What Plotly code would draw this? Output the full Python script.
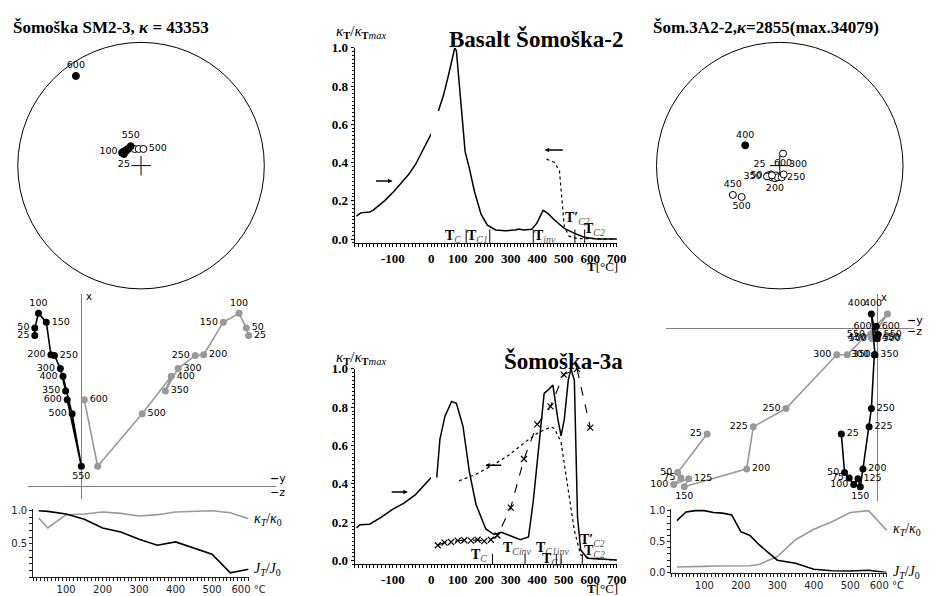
import math
import plotly.graph_objects as go

W, H = 939, 596
SERIF = "Liberation Serif"
SANS = "DejaVu Sans"
GRAY = "#999999"

# ---------------- data ----------------
# Stereonet A : Somoska SM2-3 (declination, inclination; negative = upper hemisphere)
a_temp = [25, 50, 100, 150, 200, 250, 300, 350, 400, 500, 550, 600]
a_dec = [304, 304, 307, 312, 318, 316, 322, 339, 352, 8, 332, 324]
a_inc = [76.4, 74.9, 75.1, 75.6, 76.1, 76.0, 76.0, -78.3, -78.9, -78.9, 75.5, 11.0]
a_lab = ['25', '', '100', '', '', '', '', '', '', '500', '550', '600']

# Stereonet C : Som.3A2-2
c_temp = [25, 50, 75, 100, 125, 150, 200, 225, 250, 300, 350, 400, 450, 500, 550, 600]
c_dec = [225, 230.2, 222.3, 213.7, 208.6, 201.8, 201, 189.5, 170.5, 156, 229.8, 300.4, 238, 230.6, 218.7, 15]
c_inc = [-81.8, -79.9, -80.4, -80.7, -81.9, -83.1, -81.1, -82.2, -82.2, -83.7, -79.0, 63.4, -53.0, -57.1, -81.8, -81.8]
c_lab = ['25', '50', '', '', '', '', '200', '', '250', '300', '350', '400', '450', '500', '', '600']

# Curve B : Basalt Somoska-2
b_lt_T = [-195, -184, -161, -152, -122, -97, -71, -58, -41, -28, -11, 0]
b_lt_k = [0.12, 0.137, 0.142, 0.15, 0.20, 0.25, 0.31, 0.34, 0.39, 0.44, 0.50, 0.55]
b_ht_T = [27, 46, 64, 80, 89, 95, 105, 120, 128, 144, 163, 188, 212, 243, 280, 317, 330, 348,
          379, 398, 422, 441, 465, 502, 539, 577, 626, 700]
b_ht_k = [0.67, 0.75, 0.85, 0.95, 1.0, 0.985, 0.83, 0.61, 0.457, 0.37, 0.25, 0.13, 0.073, 0.048,
          0.043, 0.048, 0.053, 0.048, 0.051, 0.082, 0.15, 0.133, 0.10, 0.056, 0.031, 0.01, 0.0, 0.0]
b_cool_T = [435, 465, 484, 490, 496, 502, 521, 552, 700]
b_cool_k = [0.418, 0.40, 0.355, 0.27, 0.15, 0.065, 0.014, 0.003, 0.0]
b_marks = [132, 221, 385, 542, 579]

# Curve F : Somoska-3a
f_lt_T = [-195, -186, -161, -131, -101, -71, -41, -20, 0]
f_lt_k = [0.17, 0.187, 0.19, 0.225, 0.267, 0.30, 0.344, 0.387, 0.433]
f_ht_T = [21, 33, 52, 77, 95, 120, 144, 169, 206, 237, 265, 299, 336, 367, 385, 410, 426, 441,
          459, 478, 490, 502, 517, 527, 540, 552, 564, 589, 700]
f_ht_k = [0.433, 0.634, 0.753, 0.83, 0.82, 0.70, 0.463, 0.293, 0.165, 0.136, 0.148, 0.131, 0.109,
          0.123, 0.31, 0.65, 0.872, 0.89, 0.915, 0.736, 0.65, 0.736, 0.94, 1.0, 0.94, 0.225, 0.055,
          0.012, 0.003]
f_cool_T = [105, 169, 231, 293, 354, 404, 453, 465, 490, 515, 540, 564, 601, 700]
f_cool_k = [0.416, 0.45, 0.497, 0.55, 0.617, 0.668, 0.697, 0.688, 0.617, 0.395, 0.157, 0.029, 0.012, 0.003]
f_rt_T = [25, 50, 75, 100, 125, 150, 175, 200, 225, 250, 300, 350, 400, 450, 500, 550, 600]
f_rt_k = [0.08, 0.094, 0.097, 0.104, 0.106, 0.104, 0.109, 0.102, 0.109, 0.131, 0.276, 0.53, 0.71,
          0.804, 0.97, 1.0, 0.693]
f_marks = [231, 354, 472, 490, 570]

# Zijderveld D : SM2-3
d_temp = [25, 50, 100, 150, 200, 250, 300, 350, 400, 500, 550, 600]
d_north = [154.6, 162.3, 177.3, 168.3, 135, 134.3, 121, 98, 113, 74.6, 21, 89]
d_east = [-47.4, -47.4, -43.7, -35.7, -31, -27.4, -21.4, -16, -18.7, -9.4, 0, -14.4]
d_up = [170.3, 168, 160.6, 144.6, 124.6, 116, 98.6, 85.6, 91.6, 62, 16.6, 3]

# Zijderveld G : 3A2-2
g_temp = [25, 50, 75, 100, 125, 150, 200, 225, 250, 300, 350, 400, 450, 500, 550, 600]
g_north = [-108.3, -147.7, -153.3, -160, -154, -162.3, -144, -101, -82.3, -27.3, -27.3, 14.3,
           -10, -11, -6.7, 1.7]
g_east = [-36.6, -33.3, -28.6, -24, -19.6, -17.3, -14.6, -8.3, -6, -3, -2.3, -6, -1, 0, 1, -1]
g_up = [-173.3, -203.3, -200, -207.3, -192, -196.6, -133, -126.3, -93, -41.3, -30.6, 10.4,
        -6, -5, -7, -0.3]

# Intensity / susceptibility E : SM2-3
e_temp = [25, 50, 100, 150, 200, 250, 300, 350, 400, 500, 550, 600]
e_k = [0.89, 0.74, 0.94, 0.95, 0.98, 0.96, 0.92, 0.94, 0.98, 1.0, 0.97, 0.88]
e_j = [1.0, 0.99, 0.95, 0.87, 0.74, 0.68, 0.57, 0.48, 0.53, 0.345, 0.065, 0.12]

# Intensity / susceptibility H : 3A2-2
h_temp = [25, 50, 75, 100, 125, 150, 175, 200, 225, 250, 300, 350, 400, 450, 500, 550, 600]
h_j = [0.84, 0.98, 1.0, 1.0, 0.97, 0.96, 0.93, 0.66, 0.60, 0.45, 0.20, 0.15, 0.053, 0.03, 0.026, 0.037, 0.0]
h_k = [0.09, 0.09, 0.1, 0.1, 0.105, 0.105, 0.11, 0.1, 0.11, 0.13, 0.26, 0.53, 0.70, 0.82, 0.97, 1.0, 0.68]

lt_ticks = [-100, 0]
ht_ticks = [100, 200, 300, 400, 500, 600, 700]
k_ticks = [0.0, 0.2, 0.4, 0.6, 0.8, 1.0]
small_ticks = [100, 200, 300, 400, 500, 600]
small_ticktext = ['100', '200', '300', '400', '500', '600 °C']

# ---------------- helpers ----------------
def dx(a, b):
    return [a / W, b / W]


def dy(top, bottom):
    return [1 - bottom / H, 1 - top / H]


def eqarea(inc):
    return math.sqrt(2) * math.sin(math.radians(45 - abs(inc) / 2))


def bold(vals, fmt):
    return ['<b>' + (fmt % v).replace('−', '-') + '</b>' for v in vals]


def keep(lab, *cols):
    idx = [i for i, s in enumerate(lab) if s]
    return [[c[i] for i in idx] for c in (lab,) + cols]


GHOST = dict(size=7, color='rgba(0,0,0,0)')
fig = go.Figure()
annotations = []
shapes = []


def pann(text, x, y, xanchor='left', yanchor='middle', size=11, family=SERIF, color='black'):
    annotations.append(dict(text=text, x=x / W, y=1 - y / H, xref='paper', yref='paper',
                            xanchor=xanchor, yanchor=yanchor, showarrow=False,
                            font=dict(family=family, size=size, color=color)))


# ---------------- stereonets ----------------
def stereonet(polar, dec, inc, lab, pos):
    r = [eqarea(i) for i in inc]
    col = ['black' if i >= 0 else 'white' for i in inc]
    fig.add_trace(go.Scatterpolar(r=[0], theta=[0], subplot=polar, mode='markers',
                                  marker=dict(symbol='cross-thin', size=14,
                                              line=dict(color='black', width=1)),
                                  showlegend=False, hoverinfo='skip'))
    fig.add_trace(go.Scatterpolar(r=r, theta=dec, subplot=polar, mode='markers',
                                  marker=dict(size=7, color=col, line=dict(color='black', width=1)),
                                  showlegend=False))
    t, rr, th, pp = keep(lab, r, dec, pos)
    fig.add_trace(go.Scatterpolar(r=rr, theta=th, subplot=polar, mode='markers+text', text=t,
                                  textposition=pp, marker=GHOST,
                                  textfont=dict(family=SANS, size=9.5, color='black'),
                                  showlegend=False, hoverinfo='skip'))


a_pos = ['bottom center', 'middle left', 'middle left', 'top center', 'top center', 'top center',
         'top center', 'top center', 'top center', 'middle right', 'top center', 'top center']
c_pos = ['top left', 'middle left', 'middle left', 'middle left', 'middle left', 'middle left',
         'bottom center', 'middle right', 'middle right', 'top right', 'middle left', 'top center',
         'top center', 'bottom center', 'middle left', 'bottom center']
stereonet('polar', a_dec, a_inc, a_lab, a_pos)
stereonet('polar2', c_dec, c_inc, c_lab, c_pos)

polar_common = dict(
    bgcolor='white',
    radialaxis=dict(range=[0, 1], visible=False),
    angularaxis=dict(rotation=90, direction='clockwise', showticklabels=False, ticks='',
                     showgrid=False, showline=True, linecolor='black', linewidth=1),
)

# ---------------- thermomagnetic curves ----------------
def curve(x, y, xa, ya, dash='solid', width=1.5, mode='lines', marker=None):
    fig.add_trace(go.Scatter(x=x, y=y, xaxis=xa, yaxis=ya, mode=mode,
                             line=dict(color='black', width=width, dash=dash),
                             marker=marker, showlegend=False))


curve(b_lt_T, b_lt_k, 'x', 'y')
curve(b_ht_T, b_ht_k, 'x2', 'y')
curve(b_cool_T, b_cool_k, 'x2', 'y', dash='dot', width=1.2)

curve(f_lt_T, f_lt_k, 'x3', 'y2')
curve(f_ht_T, f_ht_k, 'x4', 'y2')
curve(f_cool_T, f_cool_k, 'x4', 'y2', dash='dot', width=1.2)
curve(f_rt_T, f_rt_k, 'x4', 'y2', dash='dash', width=1.1, mode='lines+markers',
      marker=dict(symbol='x-thin', size=6, line=dict(color='black', width=1.2), color='black'))

# ---------------- Zijderveld ----------------
def zij(xa, ya, h, v, color, lab, pos):
    fig.add_trace(go.Scatter(x=h, y=v, xaxis=xa, yaxis=ya, mode='lines+markers',
                             line=dict(color=color, width=1.6),
                             marker=dict(color=color, size=7), showlegend=False))
    t, hh, vv, pp = keep(lab, h, v, pos)
    fig.add_trace(go.Scatter(x=hh, y=vv, xaxis=xa, yaxis=ya, mode='markers+text', text=t,
                             textposition=pp, cliponaxis=False, marker=GHOST,
                             textfont=dict(family=SANS, size=9.5, color='black'),
                             showlegend=False, hoverinfo='skip'))


d_lab = [str(t) for t in d_temp]
d_bpos = ['middle left', 'middle left', 'top center', 'middle right', 'middle left', 'middle right',
          'middle left', 'middle left', 'middle left', 'middle left', 'bottom center', 'middle left']
d_glab = [str(t) if t != 550 else '' for t in d_temp]
d_gpos = ['middle right', 'middle right', 'top center', 'middle left', 'middle right', 'middle left',
          'middle right', 'middle right', 'middle right', 'middle right', 'middle right', 'middle right']
zij('x5', 'y3', d_up, d_north, GRAY, d_glab, d_gpos)
zij('x5', 'y3', d_east, d_north, 'black', d_lab, d_bpos)

g_lab = [str(t) for t in g_temp]
g_bpos = ['middle right', 'middle left', 'middle left', 'middle left', 'middle right', 'bottom center',
          'middle right', 'middle right', 'middle right', 'middle left', 'middle right', 'top left',
          'middle right', 'middle right', 'middle right', 'middle right']
g_gpos = ['middle left', 'middle left', 'middle left', 'middle left', 'middle right', 'bottom center',
          'middle right', 'middle left', 'middle left', 'middle left', 'middle right', 'top left',
          'middle left', 'middle left', 'middle left', 'middle left']
zij('x6', 'y4', g_up, g_north, GRAY, g_lab, g_gpos)
zij('x6', 'y4', g_east, g_north, 'black', g_lab, g_bpos)

# ---------------- J/J0, k/k0 ----------------
for xa, ya, t, k, j in [('x7', 'y5', e_temp, e_k, e_j), ('x8', 'y6', h_temp, h_k, h_j)]:
    fig.add_trace(go.Scatter(x=t, y=k, xaxis=xa, yaxis=ya, mode='lines',
                             line=dict(color=GRAY, width=1.6), showlegend=False))
    fig.add_trace(go.Scatter(x=t, y=j, xaxis=xa, yaxis=ya, mode='lines',
                             line=dict(color='black', width=1.6), showlegend=False))

# ---------------- axes ----------------
serif13 = dict(family=SERIF, size=13, color='black')
sans10 = dict(family=SANS, size=10, color='#222')


def lt_axis(dom, anchor):
    return dict(domain=dom, anchor=anchor, range=[-200, 0], showgrid=False, zeroline=False,
                showline=True, linecolor='black', linewidth=1, ticks='outside', ticklen=3,
                tickcolor='black', tickvals=lt_ticks, ticktext=bold(lt_ticks, '%d'),
                tickfont=serif13,
                minor=dict(dtick=10, ticks='outside', ticklen=3, tickcolor='black', showgrid=False))


def ht_axis(dom, anchor):
    return dict(domain=dom, anchor=anchor, range=[0, 700], showgrid=False, zeroline=False,
                showline=True, linecolor='black', linewidth=1, ticks='outside', ticklen=3,
                tickcolor='black', tickvals=ht_ticks, ticktext=bold(ht_ticks, '%d'),
                tickfont=serif13,
                minor=dict(dtick=12.5, ticks='outside', ticklen=3, tickcolor='black', showgrid=False))


def k_yaxis(dom, anchor):
    return dict(domain=dom, anchor=anchor, range=[-0.02, 1.0], showgrid=False, zeroline=False,
                showline=True, linecolor='black', linewidth=1, ticks='outside', ticklen=3,
                tickcolor='black', tickvals=k_ticks, ticktext=bold(k_ticks, '%.1f'),
                tickfont=serif13,
                minor=dict(dtick=0.02, ticks='outside', ticklen=2, tickcolor='black', showgrid=False))


def zij_axis(dom, anchor, rng):
    return dict(domain=dom, anchor=anchor, range=rng, showgrid=False, zeroline=True,
                zerolinecolor='#808080', zerolinewidth=1, showline=False, showticklabels=False,
                ticks='')


def small_x(dom, anchor):
    return dict(domain=dom, anchor=anchor, range=[10, 600], showgrid=False, zeroline=False,
                showline=True, linecolor='#222', linewidth=1, ticks='outside', ticklen=3,
                tickcolor='#222', tickvals=small_ticks, ticktext=small_ticktext, tickfont=sans10,
                minor=dict(dtick=10, ticks='outside', ticklen=3, tickcolor='#222', showgrid=False))


def small_y(dom, anchor, vals, text):
    return dict(domain=dom, anchor=anchor, range=[0, 1.03], showgrid=False, zeroline=False,
                showline=True, linecolor='#222', linewidth=1, ticks='outside', ticklen=3,
                tickcolor='#222', tickvals=vals, ticktext=text, tickfont=sans10,
                minor=dict(dtick=0.1, ticks='outside', ticklen=3, tickcolor='#222', showgrid=False))


layout = dict(
    width=W, height=H, margin=dict(l=0, r=0, t=0, b=0),
    paper_bgcolor='white', plot_bgcolor='rgba(0,0,0,0)', showlegend=False,
    polar=dict(domain=dict(x=dx(9.5, 261.5), y=dy(28, 280)), **polar_common),
    polar2=dict(domain=dict(x=dx(660, 912), y=dy(28, 280)), **polar_common),
    xaxis=lt_axis(dx(353, 431), 'y'),
    xaxis2=ht_axis(dx(431, 620), 'y'),
    yaxis=k_yaxis(dy(33.5, 233), 'x'),
    xaxis3=lt_axis(dx(353, 431), 'y2'),
    xaxis4=ht_axis(dx(431, 620), 'y2'),
    yaxis2=k_yaxis(dy(361.7, 561.7), 'x3'),
    xaxis5=zij_axis(dx(20, 273), 'y3', [-54.7, 198.3]),
    yaxis3=zij_axis(dy(285, 495), 'x5', [-12.7, 197.3]),
    xaxis6=zij_axis(dx(670, 923), 'y4', [-215.3, 37.7]),
    yaxis4=zij_axis(dy(285, 496.7), 'x6', [-176.7, 35]),
    xaxis7=small_x(dx(25.7, 245), 'y5'),
    yaxis5=small_y(dy(504.7, 574.7), 'x7', [0.5, 1.0], ['0.5', '1.0']),
    xaxis8=small_x(dx(675.7, 895), 'y6'),
    yaxis6=small_y(dy(504.8, 570), 'x8', [0, 0.5, 1.0], ['0.0', '0.5', '1.0']),
)

# ---------------- text ----------------
pann('<b>Šomoška SM2-3, <i>κ</i> = 43353</b>', 3, 13, size=17)
pann('<b>Šom.3A2-2,<i>κ</i>=2855(max.34079)</b>', 655, 13, size=17)
klabel = '<i>κ</i><sub><b>T</b></sub>/<i>κ</i><sub><b>T</b><i>max</i></sub>'
pann(klabel, 332, 17, size=15)
pann(klabel, 332, 351, size=15)
pann('<b>Basalt Šomoška-2</b>', 628, 25, xanchor='right', size=23)
pann('<b>Šomoška-3a</b>', 628, 354, xanchor='right', size=23)
pann('<b>T</b>[°C]', 623, 257, xanchor='right', size=13)
pann('<b>T</b>[°C]', 623, 586, xanchor='right', size=13)

klab = '<i>κ<sub>T</sub></i>/<i>κ</i><sub>0</sub>'
jlab = '<i>J<sub>T</sub></i>/<i>J</i><sub>0</sub>'
pann(klab, 249, 516, size=14)
pann(jlab, 249, 567, size=14)
pann(klab, 899, 526, size=14)
pann(jlab, 899, 570, size=14)

pann('x', 77, 288, size=10, family=SANS)
pann('<b>−</b>y', 265, 474, size=11, family=SANS)
pann('−z', 265, 488, size=11, family=SANS)
pann('x', 887, 289, size=10, family=SANS)
pann('<b>−</b>y', 914, 312, size=11, family=SANS)
pann('−z', 914, 324, size=11, family=SANS)

# T labels in data coordinates
sub = lambda s: '<sub><i><span style="color:#555">%s</span></i></sub>' % s
b_tl = [('<b>T</b>' + sub('C'), 81, 0.015), ('<b>T</b>' + sub('C1'), 176, 0.015),
        ('<b>T</b>' + sub('inv'), 430, 0.015), ('<b>T′</b>' + sub('C2'), 553, 0.11),
        ('<b>T</b>' + sub('C2'), 615, 0.05)]
for t, x, y in b_tl:
    annotations.append(dict(text=t, x=x, y=y, xref='x2', yref='y', showarrow=False,
                            font=dict(family=SERIF, size=14, color='black')))
f_tl = [('<b>T</b>' + sub('C'), 181, 0.025), ('<b>T</b>' + sub('Cinv'), 323, 0.065),
        ('<b>T</b>' + sub('C1inv'), 459, 0.065), ('<b>T</b>' + sub('C1'), 459, 0.005),
        ('<b>T′</b>' + sub('C2'), 609, 0.105), ('<b>T</b>' + sub('C2'), 615, 0.047)]
for t, x, y in f_tl:
    annotations.append(dict(text=t, x=x, y=y, xref='x4', yref='y2', showarrow=False,
                            font=dict(family=SERIF, size=14, color='black')))

for xs, xa, ya, y0, y1 in [(b_marks, 'x2', 'y', -0.02, 0.05), (f_marks, 'x4', 'y2', -0.02, 0.035)]:
    for t in xs:
        shapes.append(dict(type='line', xref=xa, yref=ya, x0=t, x1=t, y0=y0, y1=y1,
                           line=dict(color='black', width=1)))

# arrows (heating / cooling direction)
for tip, tail, y, xa, ya in [(-101, -148, 0.304, 'x', 'y'), (428, 502, 0.466, 'x2', 'y'),
                             (-61, -107, 0.358, 'x3', 'y2'), (204, 270, 0.497, 'x4', 'y2')]:
    annotations.append(dict(x=tip, y=y, ax=tail, ay=y, xref=xa, yref=ya, axref=xa, ayref=ya,
                            text='', showarrow=True, arrowhead=2, arrowsize=0.6,
                            arrowwidth=1.5, arrowcolor='black'))

layout['annotations'] = annotations
layout['shapes'] = shapes
fig.update_layout(**layout)
fig.write_html('out.html')
